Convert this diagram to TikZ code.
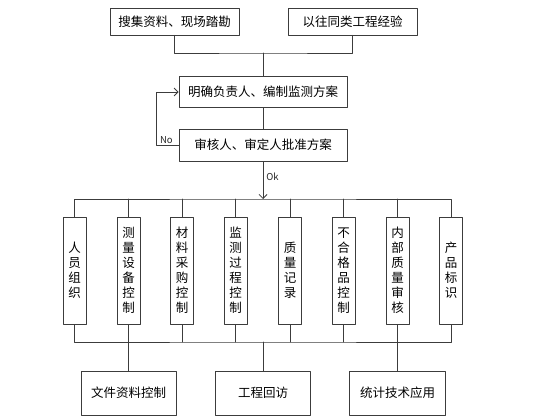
\documentclass[tikz,border=0pt]{standalone}
\usepackage{fontspec}
\newfontfamily\cjk{Noto Sans CJK SC}
\usetikzlibrary{arrows.meta}
\definecolor{boxline}{RGB}{60,60,60}

\begin{document}
\begin{tikzpicture}[x=1pt,y=-1pt,line cap=round,line join=round,
  every path/.style={draw=boxline,line width=0.8pt},
  stepbox/.style={draw=boxline,line width=0.8pt,fill=white,inner sep=0pt,
    font=\cjk\fontsize{12.5}{15}\selectfont},
  wide/.style={stepbox,minimum width=#1,minimum height=31pt},
  tall/.style={stepbox,minimum width=23pt,minimum height=107pt,align=center},
  low/.style={stepbox,minimum width=95pt,minimum height=44pt},
  tag/.style={font=\cjk\fontsize{9.5}{11}\selectfont,text=black!85,inner sep=1pt},
  open/.style={-{Straight Barb[length=4pt,width=8pt]}}]
\useasboundingbox[draw=none] (0,0) rectangle (560,420);
% sources and planning
\node[wide=129pt,minimum height=27pt] (collect) at (174.5,21.5) {搜集资料、现场踏勘};
\node[wide=129pt,minimum height=27pt] (former) at (352.5,21.5) {以往同类工程经验};
\node[wide=168pt] (plan) at (263,92) {明确负责人、编制监测方案};
\node[wide=168pt,minimum height=32pt] (approve) at (263,145) {审核人、审定人批准方案};
\coordinate (merge) at (263,53);
\draw (collect.south) |- (merge) -| (former.south);
\draw (merge) -- (plan.north);
\draw (plan.south) -- (approve.south |- approve.north);
\draw[open] (approve.west) -- ++(-22,0) coordinate (back) |- (plan.west);
\node[tag,anchor=south west] (no) at ([xshift=2pt]back) {No};
% control items
\coordinate (upbus) at (263,199);
\coordinate (lowbus) at (263,342);
\draw[open] (approve.south) -- (upbus);
\node[tag,anchor=west] (ok) at (265,177) {Ok};
\node[tall] (v1) at (74.5,270.5) {人\\员\\组\\织};
\node[tall] (v2) at (128.5,270.5) {测\\量\\设\\备\\控\\制};
\node[tall] (v3) at (182,270.5) {材\\料\\采\\购\\控\\制};
\node[tall] (v4) at (235.5,270.5) {监\\测\\过\\程\\控\\制};
\node[tall] (v5) at (290,270.5) {质\\量\\记\\录};
\node[tall] (v6) at (343.5,270.5) {不\\合\\格\\品\\控\\制};
\node[tall] (v7) at (397.5,270.5) {内\\部\\质\\量\\审\\核};
\node[tall] (v8) at (451,270.5) {产\\品\\标\\识};
\draw (v1.north) |- (upbus) -| (v8.north);
\draw (v2.north) -- (v2.north |- upbus);
\draw (v3.north) -- (v3.north |- upbus);
\draw (v4.north) -- (v4.north |- upbus);
\draw (v5.north) -- (v5.north |- upbus);
\draw (v6.north) -- (v6.north |- upbus);
\draw (v7.north) -- (v7.north |- upbus);
\draw (v1.south) |- (lowbus) -| (v8.south);
\draw (v2.south) -- (v2.south |- lowbus);
\draw (v3.south) -- (v3.south |- lowbus);
\draw (v4.south) -- (v4.south |- lowbus);
\draw (v5.south) -- (v5.south |- lowbus);
\draw (v6.south) -- (v6.south |- lowbus);
\draw (v7.south) -- (v7.south |- lowbus);
% bottom row
\node[low] (docs) at (128.5,393) {文件资料控制};
\node[low] (visit) at (263,393) {工程回访};
\node[low,minimum width=96pt] (stats) at (397.5,393) {统计技术应用};
\draw (v2.south) -- (docs.north);
\draw (lowbus) -- (visit.north);
\draw (v7.south) -- (stats.north);
\end{tikzpicture}
\end{document}
